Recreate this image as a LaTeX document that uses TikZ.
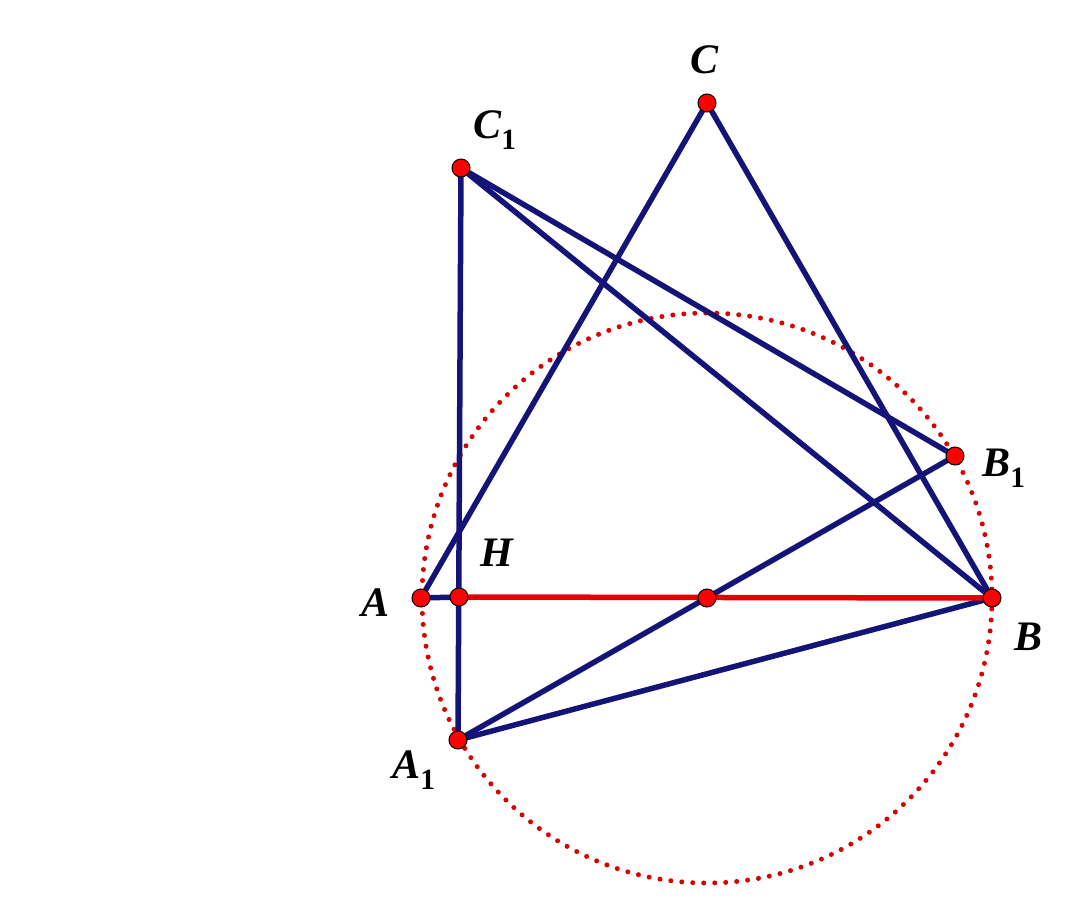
\documentclass[tikz,border=0pt]{standalone}
\usepackage{fontspec}
\setmainfont{Liberation Serif}[BoldItalicFont={Liberation Serif Bold Italic}]
\begin{document}
\begin{tikzpicture}[x=1pt,y=-1pt,
  seg/.style={draw={rgb,255:red,20;green,20;blue,120},line width=5.5pt},
  pt/.style={circle,fill=red,draw=black,line width=1pt,minimum size=18pt,inner sep=0pt},
  lab/.style={font=\fontsize{42}{42}\selectfont\bfseries\itshape}]
\useasboundingbox (0,0) rectangle (1080,907);
\draw[red!85!black,line width=5pt,dash pattern=on 0pt off 11pt,line cap=round] (707,598) circle (285);
\coordinate (A) at (421,598); \coordinate (H) at (459,597); \coordinate (M) at (707,598);
\coordinate (B) at (992,598); \coordinate (C) at (707,103); \coordinate (C1) at (461,168);
\coordinate (B1) at (955,456); \coordinate (A1) at (458,740);
\draw[seg] (A)--(C)--(B);
\draw[seg] (A)--(H);
\draw[seg] (C1)--(A1)--(B);
\draw[seg] (C1)--(B);
\draw[seg] (C1)--(B1)--(A1);
\draw[red!90!black,line width=5.5pt] (H)--(B);
\foreach \p in {A,H,M,B,C,C1,B1,A1} \node[pt] at (\p) {};
\newcommand{\sbone}{\textsubscript{\upshape 1}}
\node[lab] (lC) at (705,60) {C};
\node[lab] (lC1) at (495,130) {C\sbone};
\node[lab] (lB1) at (1004,468) {B\sbone};
\node[lab] (lH) at (497,553) {H};
\node[lab] (lA) at (376,603) {A};
\node[lab] (lB) at (1028,637) {B};
\node[lab] (lA1) at (414,770) {A\sbone};
\end{tikzpicture}
\end{document}
